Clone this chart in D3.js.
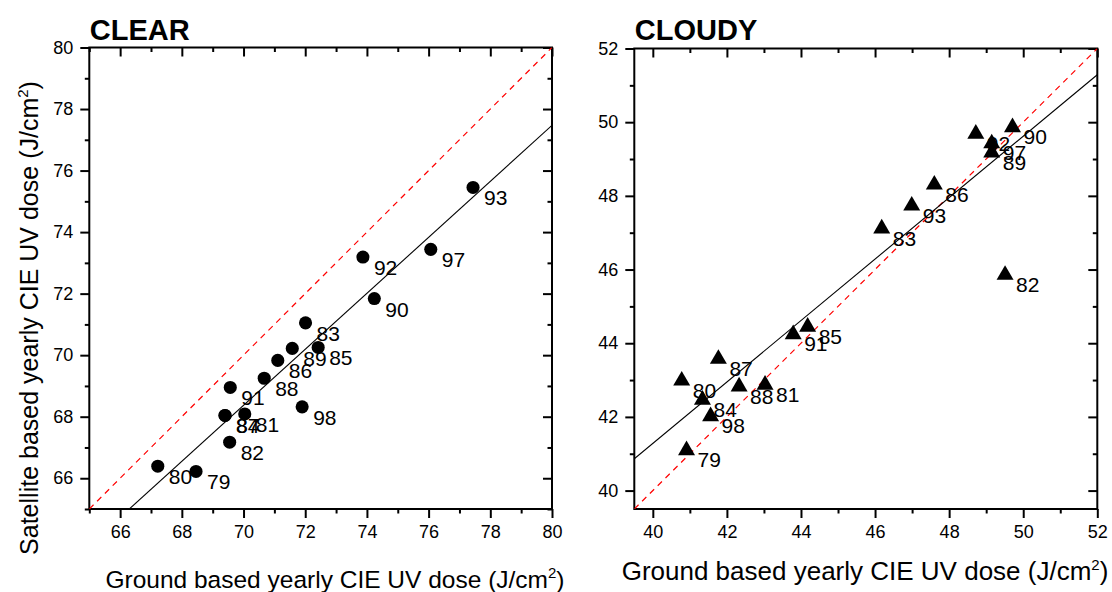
<!DOCTYPE html>
<html>
<head>
<meta charset="utf-8">
<title>CIE UV dose: satellite vs ground</title>
<script src="https://d3js.org/d3.v7.min.js"></script>
<style>
  body { margin: 0; background: #fff; }
  svg text { font-family: Arial, "Liberation Sans", sans-serif; fill: #000; }
</style>
</head>
<body>
<script>
// CLEAR sky panel
const clearYears  = ["93", "97", "92", "90", "83", "89", "85", "86", "88", "91", "98", "81", "84", "87", "82", "80", "79"];
const clearGround = [77.44, 76.07, 73.87, 74.24, 72.01, 71.58, 72.42, 71.11, 70.67, 69.57, 71.90, 70.04, 69.40, 69.40, 69.55, 67.22, 68.46];
const clearSat    = [75.45, 73.44, 73.19, 71.84, 71.05, 70.22, 70.25, 69.83, 69.25, 68.95, 68.32, 68.09, 68.04, 68.04, 67.17, 66.39, 66.22];
const clearFit    = [0.91, 4.67];   // slope, intercept
const clearTicks  = [66, 68, 70, 72, 74, 76, 78, 80];

// CLOUDY sky panel
const cloudyYears  = ["90", "92", "97", "89", "86", "93", "83", "82", "91", "85", "87", "80", "88", "81", "84", "98", "79"];
const cloudyGround = [49.71, 48.72, 49.15, 49.15, 47.60, 46.99, 46.18, 49.51, 43.79, 44.18, 41.77, 40.78, 42.33, 43.03, 41.34, 41.56, 40.91];
const cloudySat    = [49.89, 49.71, 49.45, 49.20, 48.33, 47.76, 47.14, 45.88, 44.27, 44.47, 43.60, 43.01, 42.85, 42.90, 42.49, 42.04, 41.12];
const cloudyFit    = [0.834, 7.92];
const cloudyTicks  = [40, 42, 44, 46, 48, 50, 52];

const W = 1112, H = 592;
const svg = d3.select("body").append("svg").attr("width", W).attr("height", H);

function panel(opt) {
  const x = d3.scaleLinear().domain(opt.domain).range(opt.xr);
  const y = d3.scaleLinear().domain(opt.domain).range(opt.yr);
  const g = svg.append("g");
  const minor = d3.range(Math.ceil(opt.domain[0]), opt.domain[1] + 0.01, 1).filter(v => opt.ticks.indexOf(v) < 0);

  const clipId = "clip" + opt.id;
  svg.append("clipPath").attr("id", clipId).append("rect")
    .attr("x", opt.xr[0]).attr("y", opt.yr[1])
    .attr("width", opt.xr[1] - opt.xr[0]).attr("height", opt.yr[0] - opt.yr[1]);

  // axes: major + minor, outside on bottom/left, inside on top/right
  const defs = [
    [d3.axisBottom(x), "translate(0," + opt.yr[0] + ")", 9, 4.5, true],
    [d3.axisLeft(y), "translate(" + opt.xr[0] + ",0)", 9, 4.5, true],
    [d3.axisTop(x), "translate(0," + opt.yr[1] + ")", -9, -4.5, false],
    [d3.axisRight(y), "translate(" + opt.xr[1] + ",0)", -9, -4.5, false]
  ];
  defs.forEach(function(d) {
    const major = d[0].tickValues(opt.ticks).tickSize(d[2]).tickSizeOuter(0).tickPadding(7);
    if (!d[4]) major.tickFormat("");
    const ga = g.append("g").attr("transform", d[1]).call(major);
    ga.select(".domain").remove();
    ga.selectAll("line").attr("stroke", "#000").attr("stroke-width", 2);
    ga.selectAll("text").style("font-size", "18px").attr("fill", "#000");
    const gm = g.append("g").attr("transform", d[1])
      .call(d[0].tickValues(minor).tickSize(d[3]).tickFormat(""));
    gm.select(".domain").remove();
    gm.selectAll("line").attr("stroke", "#000").attr("stroke-width", 2);
  });

  g.append("rect")
    .attr("x", opt.xr[0]).attr("y", opt.yr[1])
    .attr("width", opt.xr[1] - opt.xr[0]).attr("height", opt.yr[0] - opt.yr[1])
    .attr("fill", "none").attr("stroke", "#000").attr("stroke-width", 2);

  const lines = g.append("g").attr("clip-path", "url(#" + clipId + ")");
  // 1:1 line
  lines.append("line")
    .attr("x1", x(opt.domain[0])).attr("y1", y(opt.domain[0]))
    .attr("x2", x(opt.domain[1])).attr("y2", y(opt.domain[1]))
    .attr("stroke", "#ff0000").attr("stroke-width", 1.2).attr("stroke-dasharray", "6,5");
  // regression line
  const f = v => opt.fit[0] * v + opt.fit[1];
  lines.append("line")
    .attr("x1", x(opt.domain[0])).attr("y1", y(f(opt.domain[0])))
    .attr("x2", x(opt.domain[1])).attr("y2", y(f(opt.domain[1])))
    .attr("stroke", "#000").attr("stroke-width", 1.1);

  // year labels, then markers on top
  g.selectAll("text.yr").data(opt.years).enter().append("text")
    .attr("class", "yr")
    .attr("x", (d, i) => x(opt.gx[i]) + 11)
    .attr("y", (d, i) => y(opt.gy[i]) + 18)
    .style("font-size", "21px")
    .text(d => d);

  const sym = d3.symbol().type(opt.shape).size(opt.size);
  g.selectAll("path.pt").data(opt.years).enter().append("path")
    .attr("class", "pt")
    .attr("transform", (d, i) => "translate(" + x(opt.gx[i]) + "," + (y(opt.gy[i]) + opt.dy) + ")")
    .attr("d", sym)
    .attr("fill", "#000");

  svg.append("text").attr("x", opt.xr[0] + 0.5).attr("y", 40)
    .style("font-size", "29px").style("font-weight", "bold").text(opt.title);

  const xt = svg.append("text").attr("x", opt.xtX).attr("y", opt.xtY)
    .attr("text-anchor", "middle").style("font-size", opt.xtSize + "px");
  xt.append("tspan").text("Ground based yearly CIE UV dose (J/cm");
  xt.append("tspan").attr("dy", -10).style("font-size", "15px").text("2");
  xt.append("tspan").attr("dy", 10).text(")");
}

panel({id: "a", title: "CLEAR", domain: [65, 80], xr: [89.3, 552], yr: [509, 47.5],
  ticks: clearTicks, years: clearYears, gx: clearGround, gy: clearSat, fit: clearFit,
  shape: d3.symbolCircle, size: 135, dy: 0, xtX: 335, xtY: 588, xtSize: 24.5});
panel({id: "b", title: "CLOUDY", domain: [39.5, 52], xr: [634.3, 1097.3], yr: [509, 48.5],
  ticks: cloudyTicks, years: cloudyYears, gx: cloudyGround, gy: cloudySat, fit: cloudyFit,
  shape: d3.symbolTriangle, size: 125, dy: 1, xtX: 865, xtY: 580, xtSize: 26});

const yt = svg.append("text")
  .attr("transform", "translate(38," + 318 + ") rotate(-90)")
  .attr("text-anchor", "middle").style("font-size", "25px");
yt.append("tspan").text("Satellite based yearly CIE UV dose (J/cm");
yt.append("tspan").attr("dy", -10).style("font-size", "15px").text("2");
yt.append("tspan").attr("dy", 10).text(")");
</script>
</body>
</html>
